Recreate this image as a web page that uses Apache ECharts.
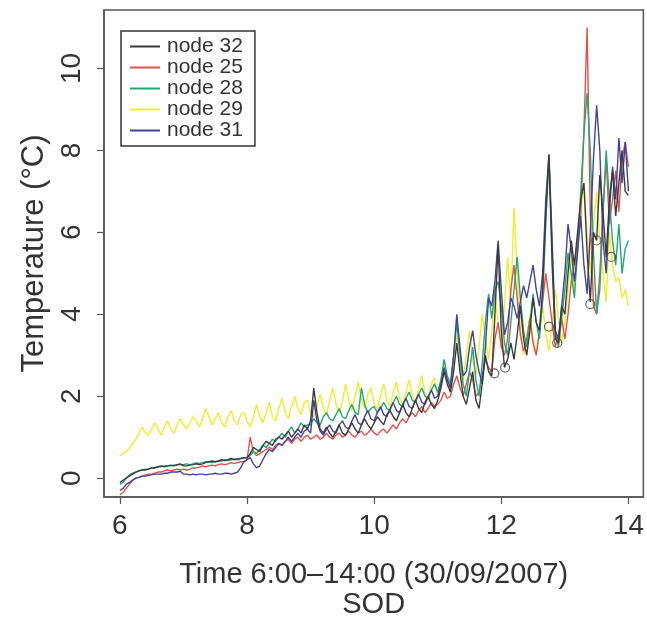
<!DOCTYPE html>
<html>
<head>
<meta charset="utf-8">
<script src="https://cdn.jsdelivr.net/npm/echarts@6/dist/echarts.min.js"></script>
<style>
  html, body { margin: 0; padding: 0; background: #fff; }
  #chart { width: 647px; height: 625px; }
</style>
</head>
<body>
<div id="chart"></div>
<script>
// Sampling grid: 6:00 to 14:00, every 0.05 h (3 minutes)
const times = Array.from({ length: 161 }, (_, i) => +(6 + i * 0.05).toFixed(2));

const seriesNames = ['node 32', 'node 25', 'node 28', 'node 29', 'node 31'];
const xTicks = [6, 8, 10, 12, 14];
const yTicks = [0, 2, 4, 6, 8, 10];

const node32 = [
  -0.1,-0.05,0.0,0.05,0.1,0.15,0.18,0.2,0.2,0.22,0.25,0.25,0.28,0.3,0.28,0.3,0.32,0.3,0.33,0.35,
  0.3,0.3,0.32,0.33,0.35,0.33,0.35,0.38,0.4,0.42,0.4,0.42,0.45,0.43,0.45,0.48,0.45,0.47,0.48,0.5,
  0.5,0.6,0.75,0.7,0.65,0.8,0.9,0.85,0.8,0.95,1.0,0.95,1.05,1.15,1.0,1.1,1.2,1.1,1.3,1.2,
  1.4,2.2,1.6,1.2,1.1,1.25,1.1,1.0,1.15,1.3,1.1,1.05,1.2,1.35,1.2,1.1,1.3,1.45,1.3,1.2,
  1.35,1.5,1.4,1.3,1.55,1.65,1.5,1.4,1.6,1.8,1.6,1.5,1.7,1.9,1.7,1.6,1.85,2.0,1.8,1.7,
  1.9,2.2,2.6,2.3,2.1,2.6,3.3,2.6,2.0,1.8,2.2,2.6,1.9,1.7,2.3,3.0,2.6,2.5,4.0,5.7,
  3.6,2.7,2.9,3.3,2.9,3.5,4.2,3.4,3.0,3.6,4.4,3.8,3.6,4.6,6.5,7.9,5.2,3.4,3.3,4.2,
  4.0,5.0,5.8,5.2,6.0,6.8,7.2,5.5,4.3,6.0,5.8,7.4,6.5,5.4,6.8,7.5,6.4,7.2,8.0,7.0,
  6.9
];
const node25 = [
  -0.4,-0.35,-0.25,-0.15,-0.05,0.0,0.02,0.05,0.08,0.1,0.1,0.12,0.15,0.15,0.18,0.2,0.18,0.2,0.22,0.2,
  0.22,0.2,0.22,0.25,0.25,0.27,0.3,0.28,0.3,0.32,0.3,0.33,0.35,0.33,0.35,0.38,0.36,0.38,0.4,0.4,
  0.45,1.0,0.65,0.55,0.6,0.65,0.7,0.75,0.7,0.8,0.85,0.8,0.9,0.95,0.85,0.95,1.0,0.9,1.0,1.05,
  0.95,1.0,1.05,0.95,1.0,1.1,1.0,0.95,1.05,1.1,1.0,1.05,1.15,1.05,1.0,1.1,1.15,1.05,1.1,1.2,
  1.1,1.05,1.15,1.2,1.1,1.2,1.3,1.2,1.35,1.45,1.35,1.5,1.6,1.5,1.65,1.75,1.6,1.7,1.85,1.75,
  1.8,1.9,2.1,1.95,2.0,2.3,2.5,2.2,2.0,2.3,2.6,2.4,2.0,2.1,2.5,2.9,2.7,2.6,3.4,3.8,
  3.2,3.0,3.4,4.6,5.2,4.4,3.5,3.1,3.4,3.9,3.3,3.0,3.6,4.3,5.0,4.4,3.8,3.2,3.5,3.9,
  3.4,4.0,4.8,5.2,5.8,6.4,8.5,11.0,6.5,4.2,4.0,5.0,6.6,7.8,6.2,6.8,7.5,6.5,7.8,8.2,
  7.6
];
const node28 = [
  -0.15,-0.1,0.0,0.08,0.12,0.15,0.18,0.2,0.22,0.22,0.25,0.26,0.28,0.28,0.3,0.3,0.3,0.32,0.32,0.33,
  0.33,0.35,0.33,0.35,0.37,0.36,0.38,0.4,0.4,0.38,0.4,0.42,0.42,0.45,0.43,0.45,0.47,0.45,0.48,0.5,
  0.5,0.55,0.65,0.6,0.7,0.8,0.75,0.85,0.95,0.9,1.0,1.1,1.0,1.15,1.25,1.1,1.2,1.35,1.25,1.3,
  1.3,1.45,1.35,1.3,1.5,1.6,1.45,1.4,1.55,1.7,1.5,1.45,1.65,1.8,1.6,1.55,2.2,1.8,1.6,1.7,
  1.75,1.6,1.7,1.85,1.7,1.65,1.85,2.0,1.8,1.75,1.95,2.1,1.9,1.85,2.05,2.2,2.0,1.95,2.15,2.3,
  2.1,2.4,2.9,2.5,2.3,3.0,3.8,3.0,2.3,2.0,2.6,3.2,2.4,2.0,2.8,3.8,4.5,3.9,4.6,4.8,
  4.2,3.3,3.0,3.8,4.6,5.4,4.4,3.6,3.2,3.8,4.5,3.8,3.4,4.4,6.2,7.8,5.5,3.6,3.2,3.9,
  4.6,5.5,5.0,4.4,5.6,7.0,8.4,9.4,8.0,5.5,4.0,4.6,6.4,8.0,6.8,5.8,5.2,6.2,5.0,5.6,
  5.8
];
const node29 = [
  0.55,0.6,0.65,0.75,0.85,0.95,1.1,1.25,1.1,1.05,1.2,1.35,1.2,1.05,1.25,1.4,1.2,1.1,1.3,1.45,
  1.3,1.2,1.35,1.5,1.4,1.25,1.45,1.7,1.5,1.3,1.45,1.6,1.35,1.25,1.5,1.65,1.4,1.3,1.55,1.6,
  1.4,1.25,1.5,1.8,1.5,1.35,1.6,1.85,1.5,1.4,1.7,1.95,1.6,1.45,1.75,2.0,1.7,1.55,1.85,1.9,
  1.6,1.5,1.75,2.05,1.7,1.55,1.9,2.2,1.8,1.6,1.85,2.3,1.9,1.65,2.0,2.35,1.9,1.7,2.05,2.2,
  1.8,1.7,2.0,2.3,1.9,1.75,2.1,2.35,1.95,1.8,2.1,2.4,2.0,1.85,2.2,2.5,2.05,1.9,2.3,2.45,
  2.0,2.3,2.8,2.4,2.2,2.9,3.5,2.8,2.4,3.0,3.6,2.9,2.5,3.2,4.0,3.4,2.9,3.6,4.5,3.8,
  3.2,4.2,5.4,4.3,6.6,5.0,3.6,3.0,3.4,4.0,3.4,3.0,3.6,4.2,3.5,3.1,3.8,4.6,3.9,3.3,
  3.8,4.6,5.4,4.6,5.8,6.5,7.2,6.0,5.0,6.2,7.0,5.8,5.0,4.3,6.0,5.2,4.8,4.9,4.4,4.6,
  4.2
];
const node31 = [
  -0.3,-0.25,-0.15,-0.1,-0.05,0.0,0.02,0.05,0.05,0.07,0.08,0.1,0.1,0.1,0.12,0.12,0.15,0.15,0.15,0.17,
  0.1,0.1,0.08,0.1,0.08,0.1,0.1,0.08,0.1,0.1,0.12,0.1,0.1,0.12,0.12,0.1,0.12,0.15,0.25,0.4,
  0.45,0.5,0.35,0.25,0.3,0.45,0.6,0.7,0.65,0.75,0.85,0.8,0.9,1.0,0.9,1.0,1.1,1.0,1.15,1.2,
  1.1,1.9,1.4,1.15,1.05,1.2,1.3,1.15,1.1,1.3,1.4,1.25,1.2,1.4,1.55,1.35,1.3,1.5,1.65,1.45,
  1.4,1.6,1.75,1.55,1.5,1.7,1.85,1.65,1.6,1.8,1.95,1.75,1.7,1.9,2.05,1.85,1.8,2.0,2.15,1.95,
  2.0,2.3,2.7,2.4,2.2,3.0,4.0,3.2,2.5,2.6,3.2,3.6,3.0,2.6,2.3,3.2,4.4,4.2,4.8,5.8,
  4.6,3.5,3.8,4.4,4.2,3.9,4.3,4.7,4.4,4.8,5.2,4.6,4.2,5.0,6.8,7.9,5.8,3.6,3.4,4.2,
  5.0,6.2,5.6,4.8,5.5,6.4,5.2,4.5,6.0,7.8,9.1,8.0,5.8,5.0,6.5,7.6,6.8,8.3,7.2,8.2,
  7.0
];
// Circled points (marked readings)
const markedTimes = [11.89, 12.06, 12.75, 12.88, 13.4, 13.5, 13.73];
const markedValues = [2.56, 2.7, 3.7, 3.3, 4.25, 5.8, 5.4];

const seriesValues = [node32, node25, node28, node29, node31];
const colors = ['#3c3c3c', '#e2524c', '#22a874', '#f0ee2a', '#43429e'];
const drawOrder = [3, 1, 2, 4, 0];

const chart = echarts.init(document.getElementById('chart'), null, { renderer: 'canvas' });
const FONT = 'Liberation Sans, Arial, sans-serif';

const lineSeries = drawOrder.map(k => ({
  name: seriesNames[k],
  type: 'line',
  data: times.map((t, i) => [t, seriesValues[k][i]]),
  showSymbol: false,
  symbol: 'none',
  lineStyle: { color: colors[k], width: 1.4 },
  itemStyle: { color: colors[k] },
  z: 2,
  animation: false
}));

lineSeries.push({
  name: 'marked',
  type: 'scatter',
  data: markedTimes.map((t, i) => [t, markedValues[i]]),
  symbol: 'circle',
  symbolSize: 9,
  itemStyle: { color: 'rgba(255,255,255,0)', borderColor: '#444', borderWidth: 1.2 },
  z: 3,
  animation: false
});

chart.setOption({
  animation: false,
  backgroundColor: '#fff',
  grid: {
    left: 104, right: 1, top: 10, bottom: 123,
    show: true, borderColor: '#555', borderWidth: 1.5, backgroundColor: 'transparent'
  },
  legend: {
    data: seriesNames,
    orient: 'vertical',
    left: 121, top: 31,
    padding: [5, 12, 5, 9],
    itemGap: 0,
    itemWidth: 30,
    itemHeight: 2,
    icon: 'rect',
    borderColor: '#333',
    borderWidth: 1.5,
    textStyle: { fontFamily: FONT, fontSize: 21, color: '#333', lineHeight: 19, padding: [0, 0, 0, 2] }
  },
  xAxis: {
    type: 'value',
    min: 5.75, max: 14.235,
    splitLine: { show: false },
    axisLine: { show: true, onZero: false, lineStyle: { color: '#555', width: 1.5 } },
    axisTick: { show: true, length: 7, lineStyle: { color: '#555', width: 1.2 }, customValues: xTicks },
    axisLabel: { customValues: xTicks, fontFamily: FONT, fontSize: 28, color: '#333', margin: 15 },
    name: 'Time 6:00\u201314:00 (30/09/2007)\nSOD',
    nameLocation: 'middle',
    nameGap: 63,
    nameTextStyle: { fontFamily: FONT, fontSize: 29, color: '#333', lineHeight: 30 }
  },
  yAxis: {
    type: 'value',
    min: -0.459, max: 11.425,
    splitLine: { show: false },
    axisLine: { show: true, onZero: false, lineStyle: { color: '#555', width: 1.5 } },
    axisTick: { show: true, length: 7, lineStyle: { color: '#555', width: 1.2 }, customValues: yTicks },
    axisLabel: { customValues: yTicks, fontFamily: FONT, fontSize: 28, color: '#333', rotate: 90, margin: 18 },
    name: 'Temperature (\u00b0C)',
    nameLocation: 'middle',
    nameRotate: 90,
    nameGap: 54,
    nameTextStyle: { fontFamily: FONT, fontSize: 31, color: '#333' }
  },
  series: lineSeries
});
</script>
</body>
</html>
